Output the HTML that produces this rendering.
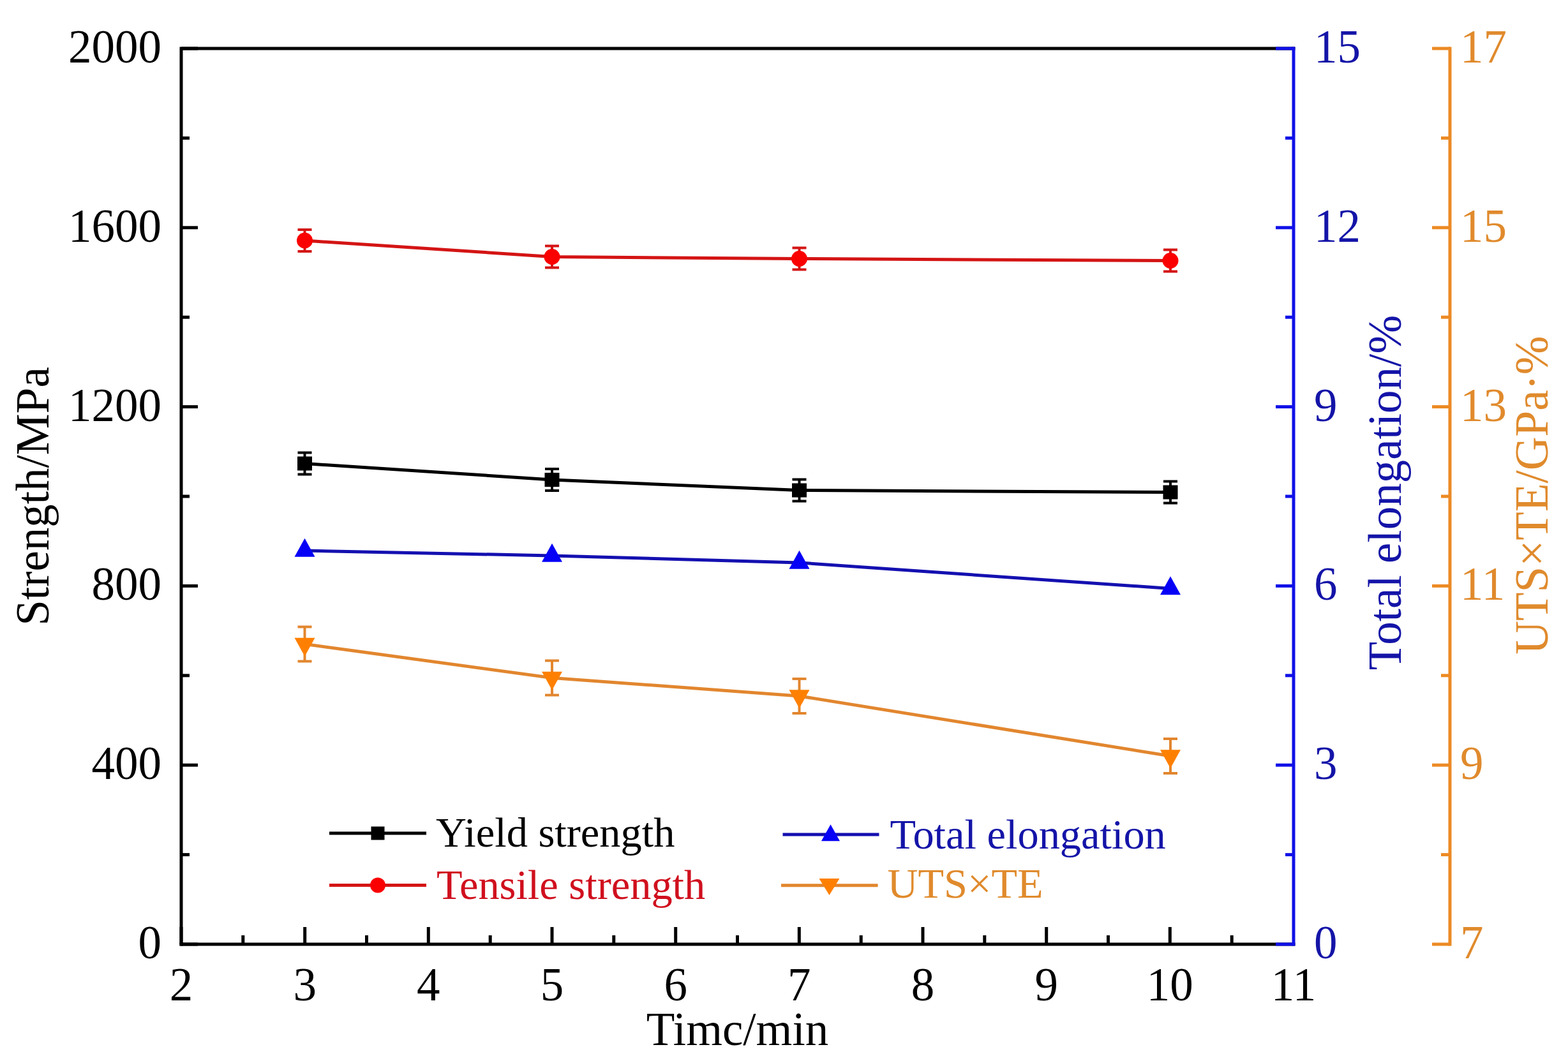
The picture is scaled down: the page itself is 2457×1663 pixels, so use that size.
<!DOCTYPE html>
<html><head><meta charset="utf-8"><title>Strength and elongation vs time</title>
<style>
html,body{margin:0;padding:0;background:#fff;}
body{width:2457px;height:1663px;overflow:hidden;}
svg{display:block;}
text{font-family:"Liberation Serif","Times New Roman",serif;}
</style></head>
<body>
<svg width="2457" height="1663" viewBox="0 0 2457 1663">
<rect width="2457" height="1663" fill="#fff"/>
<path d="M284.0,1480.0 L284.0,76.0 L2027.0,76.0" fill="none" stroke="#000" stroke-width="5.0" stroke-linejoin="miter" stroke-linecap="square"/>
<path d="M284.0,1480.0 L2027.0,1480.0" fill="none" stroke="#000" stroke-width="5.0" stroke-linecap="square"/>
<line x1="284.0" y1="1480.0" x2="284.0" y2="1453.0" stroke="#000" stroke-width="5.0" stroke-linecap="butt"/>
<line x1="380.8" y1="1480.0" x2="380.8" y2="1466.0" stroke="#000" stroke-width="5.0" stroke-linecap="butt"/>
<line x1="477.7" y1="1480.0" x2="477.7" y2="1453.0" stroke="#000" stroke-width="5.0" stroke-linecap="butt"/>
<line x1="574.5" y1="1480.0" x2="574.5" y2="1466.0" stroke="#000" stroke-width="5.0" stroke-linecap="butt"/>
<line x1="671.3" y1="1480.0" x2="671.3" y2="1453.0" stroke="#000" stroke-width="5.0" stroke-linecap="butt"/>
<line x1="768.2" y1="1480.0" x2="768.2" y2="1466.0" stroke="#000" stroke-width="5.0" stroke-linecap="butt"/>
<line x1="865.0" y1="1480.0" x2="865.0" y2="1453.0" stroke="#000" stroke-width="5.0" stroke-linecap="butt"/>
<line x1="961.8" y1="1480.0" x2="961.8" y2="1466.0" stroke="#000" stroke-width="5.0" stroke-linecap="butt"/>
<line x1="1058.7" y1="1480.0" x2="1058.7" y2="1453.0" stroke="#000" stroke-width="5.0" stroke-linecap="butt"/>
<line x1="1155.5" y1="1480.0" x2="1155.5" y2="1466.0" stroke="#000" stroke-width="5.0" stroke-linecap="butt"/>
<line x1="1252.3" y1="1480.0" x2="1252.3" y2="1453.0" stroke="#000" stroke-width="5.0" stroke-linecap="butt"/>
<line x1="1349.2" y1="1480.0" x2="1349.2" y2="1466.0" stroke="#000" stroke-width="5.0" stroke-linecap="butt"/>
<line x1="1446.0" y1="1480.0" x2="1446.0" y2="1453.0" stroke="#000" stroke-width="5.0" stroke-linecap="butt"/>
<line x1="1542.8" y1="1480.0" x2="1542.8" y2="1466.0" stroke="#000" stroke-width="5.0" stroke-linecap="butt"/>
<line x1="1639.7" y1="1480.0" x2="1639.7" y2="1453.0" stroke="#000" stroke-width="5.0" stroke-linecap="butt"/>
<line x1="1736.5" y1="1480.0" x2="1736.5" y2="1466.0" stroke="#000" stroke-width="5.0" stroke-linecap="butt"/>
<line x1="1833.3" y1="1480.0" x2="1833.3" y2="1453.0" stroke="#000" stroke-width="5.0" stroke-linecap="butt"/>
<line x1="1930.2" y1="1480.0" x2="1930.2" y2="1466.0" stroke="#000" stroke-width="5.0" stroke-linecap="butt"/>
<line x1="284.0" y1="1480.0" x2="310.0" y2="1480.0" stroke="#000" stroke-width="5.0" stroke-linecap="butt"/>
<line x1="284.0" y1="1339.6" x2="297.0" y2="1339.6" stroke="#000" stroke-width="5.0" stroke-linecap="butt"/>
<line x1="284.0" y1="1199.2" x2="310.0" y2="1199.2" stroke="#000" stroke-width="5.0" stroke-linecap="butt"/>
<line x1="284.0" y1="1058.8" x2="297.0" y2="1058.8" stroke="#000" stroke-width="5.0" stroke-linecap="butt"/>
<line x1="284.0" y1="918.4" x2="310.0" y2="918.4" stroke="#000" stroke-width="5.0" stroke-linecap="butt"/>
<line x1="284.0" y1="778.0" x2="297.0" y2="778.0" stroke="#000" stroke-width="5.0" stroke-linecap="butt"/>
<line x1="284.0" y1="637.6" x2="310.0" y2="637.6" stroke="#000" stroke-width="5.0" stroke-linecap="butt"/>
<line x1="284.0" y1="497.2" x2="297.0" y2="497.2" stroke="#000" stroke-width="5.0" stroke-linecap="butt"/>
<line x1="284.0" y1="356.8" x2="310.0" y2="356.8" stroke="#000" stroke-width="5.0" stroke-linecap="butt"/>
<line x1="284.0" y1="216.4" x2="297.0" y2="216.4" stroke="#000" stroke-width="5.0" stroke-linecap="butt"/>
<line x1="284.0" y1="76.0" x2="310.0" y2="76.0" stroke="#000" stroke-width="5.0" stroke-linecap="butt"/>
<path d="M2027.0,76.0 L2027.0,1480.0" fill="none" stroke="#1010e8" stroke-width="5.0" stroke-linecap="square"/>
<line x1="2027.0" y1="1480.0" x2="1999.0" y2="1480.0" stroke="#1010e8" stroke-width="5.0" stroke-linecap="butt"/>
<line x1="2027.0" y1="1339.6" x2="2014.0" y2="1339.6" stroke="#1010e8" stroke-width="5.0" stroke-linecap="butt"/>
<line x1="2027.0" y1="1199.2" x2="1999.0" y2="1199.2" stroke="#1010e8" stroke-width="5.0" stroke-linecap="butt"/>
<line x1="2027.0" y1="1058.8" x2="2014.0" y2="1058.8" stroke="#1010e8" stroke-width="5.0" stroke-linecap="butt"/>
<line x1="2027.0" y1="918.4" x2="1999.0" y2="918.4" stroke="#1010e8" stroke-width="5.0" stroke-linecap="butt"/>
<line x1="2027.0" y1="778.0" x2="2014.0" y2="778.0" stroke="#1010e8" stroke-width="5.0" stroke-linecap="butt"/>
<line x1="2027.0" y1="637.6" x2="1999.0" y2="637.6" stroke="#1010e8" stroke-width="5.0" stroke-linecap="butt"/>
<line x1="2027.0" y1="497.2" x2="2014.0" y2="497.2" stroke="#1010e8" stroke-width="5.0" stroke-linecap="butt"/>
<line x1="2027.0" y1="356.8" x2="1999.0" y2="356.8" stroke="#1010e8" stroke-width="5.0" stroke-linecap="butt"/>
<line x1="2027.0" y1="216.4" x2="2014.0" y2="216.4" stroke="#1010e8" stroke-width="5.0" stroke-linecap="butt"/>
<line x1="2027.0" y1="76.0" x2="1999.0" y2="76.0" stroke="#1010e8" stroke-width="5.0" stroke-linecap="butt"/>
<path d="M2272.0,76.0 L2272.0,1480.0" fill="none" stroke="#ec8a24" stroke-width="5.0" stroke-linecap="square"/>
<line x1="2272.0" y1="1480.0" x2="2244.0" y2="1480.0" stroke="#ec8a24" stroke-width="5.0" stroke-linecap="butt"/>
<line x1="2272.0" y1="1339.6" x2="2258.0" y2="1339.6" stroke="#ec8a24" stroke-width="5.0" stroke-linecap="butt"/>
<line x1="2272.0" y1="1199.2" x2="2244.0" y2="1199.2" stroke="#ec8a24" stroke-width="5.0" stroke-linecap="butt"/>
<line x1="2272.0" y1="1058.8" x2="2258.0" y2="1058.8" stroke="#ec8a24" stroke-width="5.0" stroke-linecap="butt"/>
<line x1="2272.0" y1="918.4" x2="2244.0" y2="918.4" stroke="#ec8a24" stroke-width="5.0" stroke-linecap="butt"/>
<line x1="2272.0" y1="778.0" x2="2258.0" y2="778.0" stroke="#ec8a24" stroke-width="5.0" stroke-linecap="butt"/>
<line x1="2272.0" y1="637.6" x2="2244.0" y2="637.6" stroke="#ec8a24" stroke-width="5.0" stroke-linecap="butt"/>
<line x1="2272.0" y1="497.2" x2="2258.0" y2="497.2" stroke="#ec8a24" stroke-width="5.0" stroke-linecap="butt"/>
<line x1="2272.0" y1="356.8" x2="2244.0" y2="356.8" stroke="#ec8a24" stroke-width="5.0" stroke-linecap="butt"/>
<line x1="2272.0" y1="216.4" x2="2258.0" y2="216.4" stroke="#ec8a24" stroke-width="5.0" stroke-linecap="butt"/>
<line x1="2272.0" y1="76.0" x2="2244.0" y2="76.0" stroke="#ec8a24" stroke-width="5.0" stroke-linecap="butt"/>
<text x="253.0" y="1502.0" fill="#000" font-size="73" text-anchor="end">0</text>
<text x="253.0" y="1221.2" fill="#000" font-size="73" text-anchor="end">400</text>
<text x="253.0" y="940.4" fill="#000" font-size="73" text-anchor="end">800</text>
<text x="253.0" y="659.6" fill="#000" font-size="73" text-anchor="end">1200</text>
<text x="253.0" y="378.8" fill="#000" font-size="73" text-anchor="end">1600</text>
<text x="253.0" y="98.0" fill="#000" font-size="73" text-anchor="end">2000</text>
<text x="284.0" y="1567.5" fill="#000" font-size="73" text-anchor="middle">2</text>
<text x="477.7" y="1567.5" fill="#000" font-size="73" text-anchor="middle">3</text>
<text x="671.3" y="1567.5" fill="#000" font-size="73" text-anchor="middle">4</text>
<text x="865.0" y="1567.5" fill="#000" font-size="73" text-anchor="middle">5</text>
<text x="1058.7" y="1567.5" fill="#000" font-size="73" text-anchor="middle">6</text>
<text x="1252.3" y="1567.5" fill="#000" font-size="73" text-anchor="middle">7</text>
<text x="1446.0" y="1567.5" fill="#000" font-size="73" text-anchor="middle">8</text>
<text x="1639.7" y="1567.5" fill="#000" font-size="73" text-anchor="middle">9</text>
<text x="1833.3" y="1567.5" fill="#000" font-size="73" text-anchor="middle">10</text>
<text x="2027.0" y="1567.5" fill="#000" font-size="73" text-anchor="middle">11</text>
<text x="2059.0" y="1502.0" fill="#1414a8" font-size="73" text-anchor="start">0</text>
<text x="2059.0" y="1221.2" fill="#1414a8" font-size="73" text-anchor="start">3</text>
<text x="2059.0" y="940.4" fill="#1414a8" font-size="73" text-anchor="start">6</text>
<text x="2059.0" y="659.6" fill="#1414a8" font-size="73" text-anchor="start">9</text>
<text x="2059.0" y="378.8" fill="#1414a8" font-size="73" text-anchor="start">12</text>
<text x="2059.0" y="98.0" fill="#1414a8" font-size="73" text-anchor="start">15</text>
<text x="2288.0" y="1502.0" fill="#e08a2c" font-size="73" text-anchor="start">7</text>
<text x="2288.0" y="1221.2" fill="#e08a2c" font-size="73" text-anchor="start">9</text>
<text x="2288.0" y="940.4" fill="#e08a2c" font-size="73" text-anchor="start">11</text>
<text x="2288.0" y="659.6" fill="#e08a2c" font-size="73" text-anchor="start">13</text>
<text x="2288.0" y="378.8" fill="#e08a2c" font-size="73" text-anchor="start">15</text>
<text x="2288.0" y="98.0" fill="#e08a2c" font-size="73" text-anchor="start">17</text>
<text x="1155.5" y="1637.5" fill="#000" font-size="73" text-anchor="middle">Timc/min</text>
<text x="76.0" y="778.0" fill="#000" font-size="73" text-anchor="middle" transform="rotate(-90 76.0 778.0)">Strength/MPa</text>
<text x="2194.5" y="772.0" fill="#1414a8" font-size="73" text-anchor="middle" transform="rotate(-90 2194.5 772.0)">Total elongation/%</text>
<text x="2425.0" y="776.0" fill="#e08a2c" font-size="73" text-anchor="middle" transform="rotate(-90 2425.0 776.0)">UTS×TE/GPa·%</text>
<polyline points="477.5,1009.5 865.0,1062.5 1252.5,1091.0 1834.0,1185.0" fill="none" stroke="#e2862e" stroke-width="5" stroke-linejoin="round"/>
<line x1="477.5" y1="982.5" x2="477.5" y2="1036.5" stroke="#e2862e" stroke-width="4" stroke-linecap="butt"/>
<line x1="466.5" y1="982.5" x2="488.5" y2="982.5" stroke="#e2862e" stroke-width="4" stroke-linecap="butt"/>
<line x1="466.5" y1="1036.5" x2="488.5" y2="1036.5" stroke="#e2862e" stroke-width="4" stroke-linecap="butt"/>
<polygon points="461.5,999.8 493.5,999.8 477.5,1028.8" fill="#ff8000"/>
<line x1="865.0" y1="1035.5" x2="865.0" y2="1089.5" stroke="#e2862e" stroke-width="4" stroke-linecap="butt"/>
<line x1="854.0" y1="1035.5" x2="876.0" y2="1035.5" stroke="#e2862e" stroke-width="4" stroke-linecap="butt"/>
<line x1="854.0" y1="1089.5" x2="876.0" y2="1089.5" stroke="#e2862e" stroke-width="4" stroke-linecap="butt"/>
<polygon points="849.0,1052.8 881.0,1052.8 865.0,1081.8" fill="#ff8000"/>
<line x1="1252.5" y1="1064.0" x2="1252.5" y2="1118.0" stroke="#e2862e" stroke-width="4" stroke-linecap="butt"/>
<line x1="1241.5" y1="1064.0" x2="1263.5" y2="1064.0" stroke="#e2862e" stroke-width="4" stroke-linecap="butt"/>
<line x1="1241.5" y1="1118.0" x2="1263.5" y2="1118.0" stroke="#e2862e" stroke-width="4" stroke-linecap="butt"/>
<polygon points="1236.5,1081.3 1268.5,1081.3 1252.5,1110.3" fill="#ff8000"/>
<line x1="1834.0" y1="1158.0" x2="1834.0" y2="1212.0" stroke="#e2862e" stroke-width="4" stroke-linecap="butt"/>
<line x1="1823.0" y1="1158.0" x2="1845.0" y2="1158.0" stroke="#e2862e" stroke-width="4" stroke-linecap="butt"/>
<line x1="1823.0" y1="1212.0" x2="1845.0" y2="1212.0" stroke="#e2862e" stroke-width="4" stroke-linecap="butt"/>
<polygon points="1818.0,1175.3 1850.0,1175.3 1834.0,1204.3" fill="#ff8000"/>
<polyline points="477.5,863.0 865.0,871.0 1252.5,882.0 1834.0,922.5" fill="none" stroke="#1410b0" stroke-width="5" stroke-linejoin="round"/>
<polygon points="461.5,872.7 493.5,872.7 477.5,843.7" fill="#0600f6"/>
<polygon points="849.0,880.7 881.0,880.7 865.0,851.7" fill="#0600f6"/>
<polygon points="1236.5,891.7 1268.5,891.7 1252.5,862.7" fill="#0600f6"/>
<polygon points="1818.0,932.2 1850.0,932.2 1834.0,903.2" fill="#0600f6"/>
<polyline points="477.5,726.5 865.0,752.0 1252.5,768.5 1834.0,771.5" fill="none" stroke="#000" stroke-width="5" stroke-linejoin="round"/>
<line x1="477.5" y1="709.5" x2="477.5" y2="743.5" stroke="#000" stroke-width="4" stroke-linecap="butt"/>
<line x1="466.5" y1="709.5" x2="488.5" y2="709.5" stroke="#000" stroke-width="4" stroke-linecap="butt"/>
<line x1="466.5" y1="743.5" x2="488.5" y2="743.5" stroke="#000" stroke-width="4" stroke-linecap="butt"/>
<rect x="466.0" y="715.5" width="23" height="22" fill="#000"/>
<line x1="865.0" y1="735.0" x2="865.0" y2="769.0" stroke="#000" stroke-width="4" stroke-linecap="butt"/>
<line x1="854.0" y1="735.0" x2="876.0" y2="735.0" stroke="#000" stroke-width="4" stroke-linecap="butt"/>
<line x1="854.0" y1="769.0" x2="876.0" y2="769.0" stroke="#000" stroke-width="4" stroke-linecap="butt"/>
<rect x="853.5" y="741.0" width="23" height="22" fill="#000"/>
<line x1="1252.5" y1="751.5" x2="1252.5" y2="785.5" stroke="#000" stroke-width="4" stroke-linecap="butt"/>
<line x1="1241.5" y1="751.5" x2="1263.5" y2="751.5" stroke="#000" stroke-width="4" stroke-linecap="butt"/>
<line x1="1241.5" y1="785.5" x2="1263.5" y2="785.5" stroke="#000" stroke-width="4" stroke-linecap="butt"/>
<rect x="1241.0" y="757.5" width="23" height="22" fill="#000"/>
<line x1="1834.0" y1="754.5" x2="1834.0" y2="788.5" stroke="#000" stroke-width="4" stroke-linecap="butt"/>
<line x1="1823.0" y1="754.5" x2="1845.0" y2="754.5" stroke="#000" stroke-width="4" stroke-linecap="butt"/>
<line x1="1823.0" y1="788.5" x2="1845.0" y2="788.5" stroke="#000" stroke-width="4" stroke-linecap="butt"/>
<rect x="1822.5" y="760.5" width="23" height="22" fill="#000"/>
<polyline points="477.5,377.0 865.0,402.5 1252.5,405.5 1834.0,408.5" fill="none" stroke="#d41414" stroke-width="5" stroke-linejoin="round"/>
<line x1="477.5" y1="360.0" x2="477.5" y2="394.0" stroke="#d41414" stroke-width="4" stroke-linecap="butt"/>
<line x1="466.5" y1="360.0" x2="488.5" y2="360.0" stroke="#d41414" stroke-width="4" stroke-linecap="butt"/>
<line x1="466.5" y1="394.0" x2="488.5" y2="394.0" stroke="#d41414" stroke-width="4" stroke-linecap="butt"/>
<circle cx="477.5" cy="377.0" r="12.5" fill="#fa0000"/>
<line x1="865.0" y1="385.5" x2="865.0" y2="419.5" stroke="#d41414" stroke-width="4" stroke-linecap="butt"/>
<line x1="854.0" y1="385.5" x2="876.0" y2="385.5" stroke="#d41414" stroke-width="4" stroke-linecap="butt"/>
<line x1="854.0" y1="419.5" x2="876.0" y2="419.5" stroke="#d41414" stroke-width="4" stroke-linecap="butt"/>
<circle cx="865.0" cy="402.5" r="12.5" fill="#fa0000"/>
<line x1="1252.5" y1="388.5" x2="1252.5" y2="422.5" stroke="#d41414" stroke-width="4" stroke-linecap="butt"/>
<line x1="1241.5" y1="388.5" x2="1263.5" y2="388.5" stroke="#d41414" stroke-width="4" stroke-linecap="butt"/>
<line x1="1241.5" y1="422.5" x2="1263.5" y2="422.5" stroke="#d41414" stroke-width="4" stroke-linecap="butt"/>
<circle cx="1252.5" cy="405.5" r="12.5" fill="#fa0000"/>
<line x1="1834.0" y1="391.5" x2="1834.0" y2="425.5" stroke="#d41414" stroke-width="4" stroke-linecap="butt"/>
<line x1="1823.0" y1="391.5" x2="1845.0" y2="391.5" stroke="#d41414" stroke-width="4" stroke-linecap="butt"/>
<line x1="1823.0" y1="425.5" x2="1845.0" y2="425.5" stroke="#d41414" stroke-width="4" stroke-linecap="butt"/>
<circle cx="1834.0" cy="408.5" r="12.5" fill="#fa0000"/>
<line x1="516.0" y1="1306.0" x2="668.0" y2="1306.0" stroke="#000" stroke-width="5" stroke-linecap="butt"/>
<rect x="581.5" y="1295.5" width="21" height="21" fill="#000"/>
<text x="683.0" y="1327.2" fill="#000" font-size="66.4" text-anchor="start">Yield strength</text>
<line x1="516.0" y1="1387.5" x2="668.0" y2="1387.5" stroke="#d41414" stroke-width="5" stroke-linecap="butt"/>
<circle cx="592" cy="1387.5" r="12" fill="#fa0000"/>
<text x="684.0" y="1409.4" fill="#d0101e" font-size="66.4" text-anchor="start">Tensile strength</text>
<line x1="1226.5" y1="1308.0" x2="1377.5" y2="1308.0" stroke="#1410b0" stroke-width="5" stroke-linecap="butt"/>
<polygon points="1287.0,1318.2 1316.0,1318.2 1301.5,1292.2" fill="#0600f6"/>
<text x="1394.5" y="1329.9" fill="#1414a8" font-size="66.4" text-anchor="start">Total elongation</text>
<line x1="1224.0" y1="1387.8" x2="1375.6" y2="1387.8" stroke="#e2862e" stroke-width="5" stroke-linecap="butt"/>
<polygon points="1283.5,1377.1 1315.5,1377.1 1299.5,1403.1" fill="#ff8000"/>
<text x="1390.6" y="1406.8" fill="#e08a2c" font-size="66.4" text-anchor="start">UTS×TE</text>
</svg>
</body></html>
